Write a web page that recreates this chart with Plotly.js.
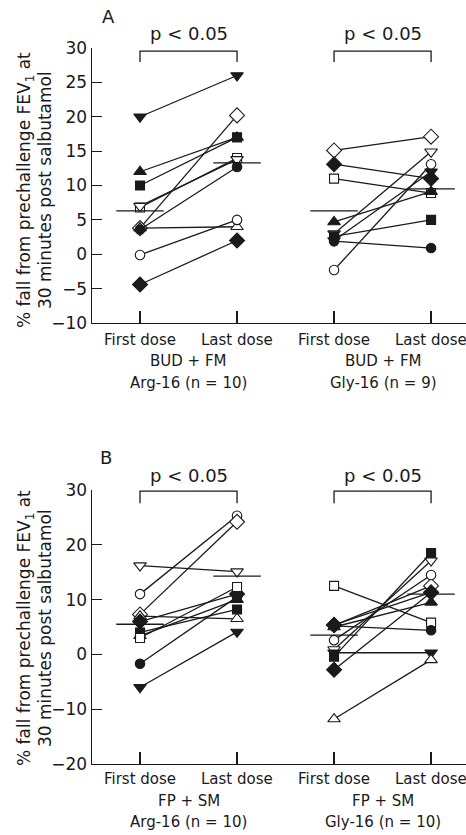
<!DOCTYPE html>
<html><head><meta charset="utf-8">
<script src="https://cdn.plot.ly/plotly-3.0.1.min.js"></script>
<style>body{margin:0;background:#fff}#chart{width:466px;height:835px}</style>
</head><body><div id="chart"></div>
<script>
// ---------- data ----------
const doseLabels = ["First dose", "Last dose", "First dose", "Last dose"];
const yTicksA = [-10, -5, 0, 5, 10, 15, 20, 25, 30];
const yTicksB = [-20, -10, 0, 10, 20, 30];
const treatA = "BUD + FM";
const treatB = "FP + SM";
const groupA = ["Arg-16 (n = 10)", "Gly-16 (n = 9)"];
const groupB = ["Arg-16 (n = 10)", "Gly-16 (n = 10)"];
const pText = "p < 0.05";
const yTitleLines = ["% fall from prechallenge FEV<sub>1</sub> at", "30 minutes post salbutamol"];

// Panel A, Arg-16
const symA_Arg   = ["triangle-down","triangle-up","square","square","triangle-down","diamond","triangle-up","circle","circle","diamond"];
const filledA_Arg = [1,1,1,0,0,0,0,1,0,1];
const firstA_Arg = [20, 12, 10, 6.8, 7, 3.8, 3.8, 3.6, -0.1, -4.4];
const lastA_Arg  = [26, 17, 17, 14, 13.8, 20.2, 4, 12.7, 5, 2];
// Panel A, Gly-16
const symA_Gly   = ["diamond","diamond","square","triangle-up","triangle-down","square","triangle-down","circle","circle"];
const filledA_Gly = [0,1,0,1,0,1,1,1,0];
const firstA_Gly = [15.1, 13.1, 11, 4.7, 3, 2.6, 2, 1.9, -2.3];
const lastA_Gly  = [17.1, 11, 8.9, 9.1, 14.9, 5, 12, 0.9, 13.1];
// Panel B, Arg-16
const symB_Arg   = ["triangle-down","circle","diamond","triangle-up","diamond","square","triangle-up","square","circle","triangle-down"];
const filledB_Arg = [0,0,0,0,1,1,1,0,1,1];
const firstB_Arg = [16.2, 11, 7.3, 7, 6, 4, 3.4, 3, -1.7, -6];
const lastB_Arg  = [15.1, 25.3, 24.2, 6.5, 11, 8.2, 10, 12.3, 10.5, 4.1];
// Panel B, Gly-16
const symB_Gly   = ["square","diamond","circle","triangle-up","diamond","circle","triangle-down","square","triangle-down","diamond","triangle-up"];
const filledB_Gly = [0,0,1,1,1,0,0,1,1,1,0];
const firstB_Gly = [12.5, 5.3, 5.2, 5, 5.4, 2.6, 0.9, -0.4, 0.3, -2.8, -11.8];
const lastB_Gly  = [5.8, 12.5, 4.4, 9.5, 11.3, 14.5, 17.1, 18.5, 0.3, 11.3, -1];

// summary (horizontal bars): [first, last]
const meanA_Arg = [6.3, 13.3];
const meanA_Gly = [6.3, 9.5];
const meanB_Arg = [5.5, 14.3];
const meanB_Gly = [3.5, 11.0];

// ---------- build ----------
const FONT = "DejaVu Sans";
const INK = "#1a1a1a";
const W = 466, H = 835;
const traces = [];

function markerSize(s){ return s.startsWith("circle") ? 9.5 : s.startsWith("square") ? 9 : s.startsWith("diamond") ? 11.5 : 11; }

function addGroup(sym, filled, first, last, x0, xa, ya){
  for (let i = 0; i < first.length; i++){
    traces.push({
      type: "scatter", mode: "lines+markers", xaxis: xa, yaxis: ya,
      x: [x0, x0 + 1], y: [first[i], last[i]],
      line: {color: INK, width: 1.3},
      marker: {symbol: sym[i], size: markerSize(sym[i]), color: filled[i] ? INK : "#ffffff",
               line: {color: INK, width: 1.1}},
      cliponaxis: false, showlegend: false, hoverinfo: "skip"
    });
  }
}
function addMean(vals, x0, xa, ya){
  const hw = 0.245;
  vals.forEach((v, k) => {
    traces.push({type: "scatter", mode: "lines", xaxis: xa, yaxis: ya,
      x: [x0 + k - hw, x0 + k + hw], y: [v, v],
      line: {color: INK, width: 1.3}, showlegend: false, hoverinfo: "skip", cliponaxis: false});
  });
}
addGroup(symA_Arg, filledA_Arg, firstA_Arg, lastA_Arg, 1, "x", "y");
addGroup(symA_Gly, filledA_Gly, firstA_Gly, lastA_Gly, 3, "x", "y");
addGroup(symB_Arg, filledB_Arg, firstB_Arg, lastB_Arg, 1, "x2", "y2");
addGroup(symB_Gly, filledB_Gly, firstB_Gly, lastB_Gly, 3, "x2", "y2");
addMean(meanA_Arg, 1, "x", "y");
addMean(meanA_Gly, 3, "x", "y");
addMean(meanB_Arg, 1, "x2", "y2");
addMean(meanB_Gly, 3, "x2", "y2");

const px = v => v / W, py = v => 1 - v / H;
const xDom = [px(92), 1];
const xRange = [0.505, 4.36];

function xAxis(anchor){
  return {domain: xDom, range: xRange, anchor: anchor, tickmode: "array",
    tickvals: [1, 2, 3, 4], showticklabels: false, ticks: "inside", ticklen: 12,
    tickwidth: 1.2, tickcolor: INK, showline: true, linecolor: INK, linewidth: 1.4,
    showgrid: false, zeroline: false, fixedrange: true};
}
function yAxis(dom, range, ticks, anchor){
  return {domain: dom, range: range, anchor: anchor, tickmode: "array", tickvals: ticks,
    ticktext: ticks.map(t => t < 0 ? "\u2212" + Math.abs(t) : String(t)),
    ticks: "inside", ticklen: 10, tickwidth: 1.2, tickcolor: INK,
    showline: true, linecolor: INK, linewidth: 1.4, showgrid: false, zeroline: false,
    fixedrange: true, tickfont: {family: FONT, size: 17, color: INK}};
}

const shapes = [];
function bracket(xa, ya, x0, top, bot){
  shapes.push({type: "path", xref: xa, yref: ya,
    path: `M ${x0} ${bot} L ${x0} ${top} L ${x0 + 1} ${top} L ${x0 + 1} ${bot}`,
    line: {color: INK, width: 1.3}});
}
bracket("x", "y", 1, 29.55, 27.95);
bracket("x", "y", 3, 29.55, 27.95);
bracket("x2", "y2", 1, 29.8, 27.6);
bracket("x2", "y2", 3, 29.8, 27.6);

const ann = [];
function t(text, x, y, size, extra){
  ann.push(Object.assign({text: text, xref: "paper", yref: "paper", x: px(x), y: py(y),
    showarrow: false, xanchor: "center", yanchor: "middle",
    font: {family: FONT, size: size, color: INK}}, extra || {}));
}
// dose tick labels, placed at the category positions of each x axis
function doseTicks(xa, ypx){
  doseLabels.forEach((lab, k) => {
    ann.push({text: lab, xref: xa, yref: "paper", x: k + 1, y: py(ypx),
      showarrow: false, xanchor: "center", yanchor: "middle",
      font: {family: FONT, size: 15, color: INK}});
  });
}
doseTicks("x", 340);
doseTicks("x2", 779);
// p values
t(pText, 188.5, 34, 18); t(pText, 383, 34, 18);
t(pText, 188.5, 475, 18); t(pText, 383, 475, 18);
// panel letters
t("A", 108, 17, 18); t("B", 106, 458, 18);
// treatment / group labels
t(treatA, 188.5, 361, 15); t(treatA, 383, 361, 15);
t(groupA[0], 188.5, 383, 15); t(groupA[1], 383, 383, 15);
t(treatB, 188.5, 801, 15); t(treatB, 383, 801, 15);
t(groupB[0], 188.5, 822, 15); t(groupB[1], 383, 822, 15);
// y titles (two rotated lines per panel)
[190, 628].forEach(cy => {
  t(yTitleLines[0], 25, cy, 17, {textangle: -90});
  t(yTitleLines[1], 45, cy, 17, {textangle: -90});
});

const layout = {
  width: W, height: H, margin: {l: 0, r: 0, t: 0, b: 0},
  paper_bgcolor: "#fff", plot_bgcolor: "#fff", showlegend: false,
  font: {family: FONT, color: INK},
  xaxis: xAxis("y"), yaxis: yAxis([py(323), py(48)], [-10, 30], yTicksA, "x"),
  xaxis2: xAxis("y2"), yaxis2: yAxis([py(764), py(490)], [-20, 30], yTicksB, "x2"),
  shapes: shapes, annotations: ann
};
Plotly.newPlot("chart", traces, layout, {staticPlot: true, displayModeBar: false});
</script></body></html>
